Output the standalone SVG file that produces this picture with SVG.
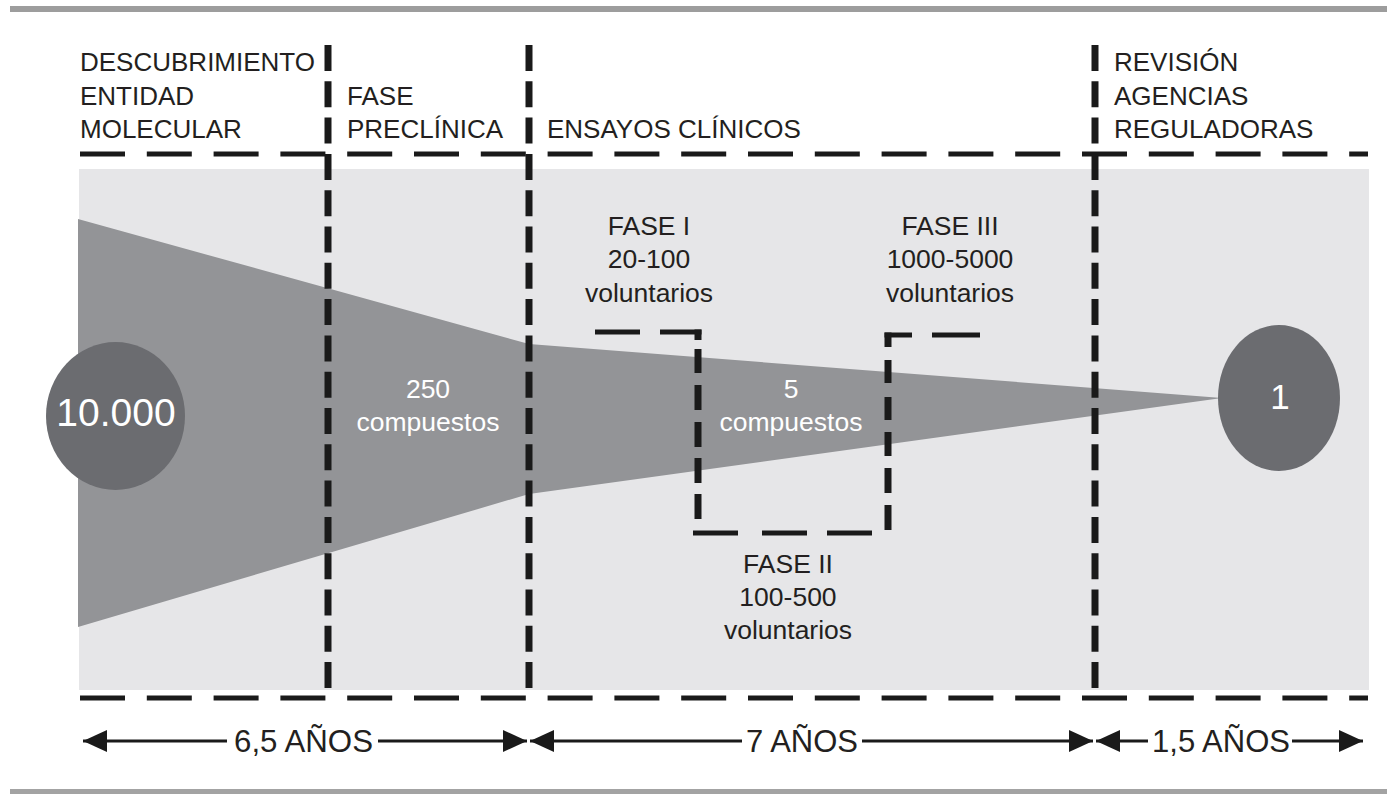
<svg xmlns="http://www.w3.org/2000/svg" width="1387" height="794" viewBox="0 0 1387 794">
<defs>
<style>
.t{font-family:"Liberation Sans",Arial,sans-serif;fill:#231f20;font-size:26px}
.c{text-anchor:middle}
.w{fill:#ffffff}
.hd{fill:none;stroke:#1a1a1a;stroke-width:5;stroke-dasharray:45 21.8}
.vd{fill:none;stroke:#1a1a1a;stroke-width:7;stroke-dasharray:26 10.3}
.bh{fill:none;stroke:#1a1a1a;stroke-width:5}
.bv{fill:none;stroke:#1a1a1a;stroke-width:7}
.ar{fill:none;stroke:#1a1a1a;stroke-width:3;marker-end:url(#ah)}
.yr{font-family:"Liberation Sans",Arial,sans-serif;fill:#231f20;font-size:32px}
</style>
<marker id="ah" viewBox="0 0 24 22" refX="24" refY="11" markerWidth="24" markerHeight="22" markerUnits="userSpaceOnUse" orient="auto">
<path d="M0,0 L24,11 L0,22 z" fill="#1a1a1a"/>
</marker>
</defs>
<rect x="10" y="6" width="1377" height="6" fill="#9d9d9d"/>
<rect x="10" y="789" width="1377" height="5" fill="#a3a3a3"/>
<rect x="79" y="169" width="1290" height="521" fill="#e6e6e8"/>
<polygon id="embudo" points="78,219 529,344 1222,398 529,494 78,627" fill="#939497"/>

<g id="encabezados">
<g id="descubrimiento">
<text class="t" x="80" y="71">DESCUBRIMIENTO</text>
<text class="t" x="80" y="105">ENTIDAD</text>
<text class="t" x="80" y="138">MOLECULAR</text>
</g>
<g id="preclinica">
<text class="t" x="347" y="105">FASE</text>
<text class="t" x="347" y="138">PRECLÍNICA</text>
</g>
<g id="ensayos">
<text class="t" x="547" y="138">ENSAYOS CLÍNICOS</text>
</g>
<g id="revision">
<text class="t" x="1114" y="71">REVISIÓN</text>
<text class="t" x="1114" y="105">AGENCIAS</text>
<text class="t" x="1114" y="138">REGULADORAS</text>
</g>
</g>

<g id="connectors">
<path class="hd" d="M80,154 H1368"/>
<path class="hd" d="M80,698 H1368"/>
<path class="vd" d="M328,45 V688"/>
<path class="vd" d="M529,45 V688"/>
<path class="vd" d="M1095,45 V688"/>
<g id="fases-bracket">
<path class="bh" d="M595,332 H640 M660,332 H701.5 M693,533 H738 M762,533 H807 M827,533 H872 M884.5,335 H912 M932,335 H980"/>
<path class="bv" d="M698,329.5 V340 M698,349 V373 M698,385 V410 M698,422 V447 M698,458 V483 M698,494 V519 M888,505 V530 M888,468 V493 M888,432 V456 M888,397 V420 M888,360 V383 M888,332.5 V347"/>
</g>
<path class="ar" d="M227,741 H83"/>
<path class="ar" d="M378,741 H527"/>
<path class="ar" d="M742,741 H530"/>
<path class="ar" d="M862,741 H1093"/>
<path class="ar" d="M1148,741 H1096"/>
<path class="ar" d="M1292,741 H1363"/>
</g>

<g id="nodo-10000">
<ellipse cx="115.5" cy="416" rx="69.5" ry="74" fill="#6b6c70"/>
<text class="t c w" x="116" y="426" style="font-size:39px">10.000</text>
</g>
<g id="nodo-250">
<text class="t c w" x="428" y="398" style="font-size:26.5px">250</text>
<text class="t c w" x="428" y="431" style="font-size:26.5px">compuestos</text>
</g>
<g id="nodo-5">
<text class="t c w" x="791" y="398" style="font-size:26.5px">5</text>
<text class="t c w" x="791" y="431" style="font-size:26.5px">compuestos</text>
</g>
<g id="nodo-1">
<ellipse cx="1279" cy="398" rx="61" ry="73" fill="#6b6c70"/>
<text class="t c w" x="1280" y="409" style="font-size:35px">1</text>
</g>
<g id="fase-1">
<text class="t c" x="649" y="235" style="font-size:26.5px">FASE I</text>
<text class="t c" x="649" y="268" style="font-size:26.5px">20-100</text>
<text class="t c" x="649" y="302" style="font-size:26.5px">voluntarios</text>
</g>
<g id="fase-2">
<text class="t c" x="788" y="573" style="font-size:26.5px">FASE II</text>
<text class="t c" x="788" y="606" style="font-size:26.5px">100-500</text>
<text class="t c" x="788" y="639" style="font-size:26.5px">voluntarios</text>
</g>
<g id="fase-3">
<text class="t c" x="950" y="235" style="font-size:26.5px">FASE III</text>
<text class="t c" x="950" y="268" style="font-size:26.5px">1000-5000</text>
<text class="t c" x="950" y="302" style="font-size:26.5px">voluntarios</text>
</g>
<g id="duraciones">
<text class="yr" x="234" y="752" textLength="139" lengthAdjust="spacingAndGlyphs">6,5 AÑOS</text>
<text class="yr" x="746" y="752" textLength="112" lengthAdjust="spacingAndGlyphs">7 AÑOS</text>
<text class="yr" x="1152" y="752" textLength="138" lengthAdjust="spacingAndGlyphs">1,5 AÑOS</text>
</g>
</svg>
